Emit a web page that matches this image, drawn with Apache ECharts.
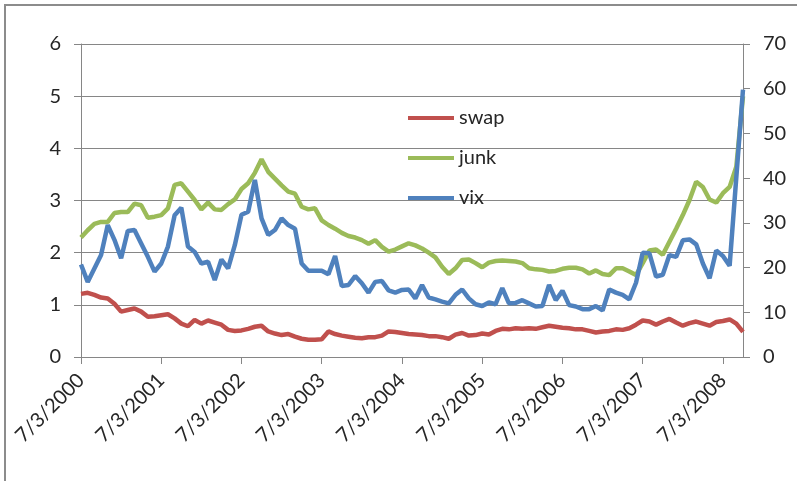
<!DOCTYPE html>
<html>
<head>
<meta charset="utf-8">
<script src="https://cdn.jsdelivr.net/npm/echarts@6/dist/echarts.min.js"></script>
<style>
  html, body { margin: 0; padding: 0; background: #fff; }
  #chart { width: 797px; height: 481px; }
</style>
</head>
<body>
<div id="chart"></div>
<script>
// monthly points, Jul 2000 .. Oct 2008 (month ends)
const yearLabels = ['7/3/2000', '7/3/2001', '7/3/2002', '7/3/2003', '7/3/2004',
  '7/3/2005', '7/3/2006', '7/3/2007', '7/3/2008']

const swap = [
  1.21, 1.23, 1.19, 1.14, 1.12, 1.02, 0.87, 0.90, 0.93, 0.87, 0.77, 0.78,
  0.80, 0.82, 0.74, 0.64, 0.59, 0.71, 0.64, 0.70, 0.66, 0.62, 0.52, 0.50,
  0.51, 0.54, 0.58, 0.60, 0.49, 0.45, 0.42, 0.44, 0.39, 0.35, 0.33, 0.33,
  0.34, 0.49, 0.44, 0.41, 0.39, 0.37, 0.36, 0.38, 0.38, 0.41, 0.49, 0.48,
  0.46, 0.44, 0.43, 0.42, 0.40, 0.40, 0.38, 0.35, 0.43, 0.46, 0.41, 0.42,
  0.45, 0.43, 0.50, 0.54, 0.53, 0.55, 0.54, 0.55, 0.54, 0.57, 0.60, 0.58,
  0.56, 0.55, 0.53, 0.53, 0.50, 0.47, 0.49, 0.50, 0.53, 0.52, 0.55, 0.62,
  0.70, 0.68, 0.62, 0.68, 0.73, 0.66, 0.60, 0.65, 0.68, 0.64, 0.60, 0.67,
  0.69, 0.72, 0.64, 0.48
]

const junk = [
  2.29, 2.43, 2.55, 2.59, 2.59, 2.76, 2.78, 2.78, 2.94, 2.91, 2.67, 2.69,
  2.72, 2.85, 3.30, 3.33, 3.17, 3.01, 2.83, 2.96, 2.83, 2.82, 2.93, 3.02,
  3.22, 3.33, 3.53, 3.79, 3.55, 3.42, 3.29, 3.17, 3.13, 2.88, 2.83, 2.85,
  2.62, 2.53, 2.46, 2.38, 2.32, 2.29, 2.24, 2.17, 2.24, 2.11, 2.02, 2.06,
  2.12, 2.18, 2.14, 2.08, 2.00, 1.91, 1.73, 1.59, 1.70, 1.86, 1.87, 1.80,
  1.72, 1.81, 1.84, 1.85, 1.84, 1.83, 1.80, 1.70, 1.68, 1.67, 1.64, 1.65,
  1.69, 1.71, 1.71, 1.68, 1.60, 1.66, 1.59, 1.57, 1.70, 1.70, 1.64, 1.57,
  1.80, 2.04, 2.06, 1.96, 2.21, 2.46, 2.72, 3.01, 3.36, 3.26, 3.02, 2.96,
  3.14, 3.26, 3.65, 5.0
]

const vix = [
  20.7, 16.8, 19.8, 22.8, 29.5, 26.2, 22.1, 28.2, 28.4, 25.4, 22.4, 19.1,
  20.9, 24.7, 31.7, 33.4, 24.7, 23.5, 20.9, 21.3, 17.2, 21.8, 19.8, 25.0,
  31.8, 32.5, 39.6, 31.0, 27.3, 28.4, 31.0, 29.5, 28.7, 20.9, 19.3, 19.3,
  19.3, 18.5, 22.6, 15.9, 16.1, 18.1, 16.5, 14.4, 16.8, 17.0, 14.9, 14.4,
  15.0, 15.1, 13.1, 16.1, 13.3, 12.9, 12.4, 12.0, 13.9, 15.1, 13.1, 11.8,
  11.4, 12.2, 11.8, 15.4, 12.0, 12.1, 12.7, 12.0, 11.3, 11.4, 16.1, 12.7,
  14.8, 11.6, 11.3, 10.7, 10.7, 11.4, 10.4, 15.1, 14.4, 13.9, 12.9, 16.6,
  23.3, 23.2, 18.0, 18.4, 22.8, 22.4, 26.1, 26.3, 25.2, 20.9, 17.6, 23.8,
  22.6, 20.4, 40.2, 59.8
]

const months = swap.map((_, i) => i)

const axisColor = '#868686'
const textColor = '#262626'
const font = 'Lato'

const chart = echarts.init(document.getElementById('chart'))

function yearTick(index) {
  return index % 12 === 0
}

chart.setOption({
  animation: false,
  backgroundColor: '#fff',
  textStyle: { fontFamily: font },
  graphic: [
    {
      type: 'rect',
      shape: { x: 5, y: 5, width: 900, height: 600 },
      style: { fill: 'none', stroke: '#8c8c8c', lineWidth: 2 },
      silent: true
    }
  ],
  grid: { left: 81, right: 54, top: 44, bottom: 124 },
  legend: {
    data: ['swap', 'junk', 'vix'],
    orient: 'vertical',
    left: 403,
    top: 103,
    icon: 'rect',
    itemWidth: 46,
    itemHeight: 4,
    itemGap: 20,
    textStyle: { fontFamily: font, fontSize: 20, color: textColor, lineHeight: 20 }
  },
  xAxis: {
    type: 'category',
    data: months,
    boundaryGap: false,
    axisLine: { lineStyle: { color: axisColor } },
    axisTick: { interval: yearTick, length: 7, lineStyle: { color: axisColor } },
    axisLabel: {
      interval: yearTick,
      rotate: 45,
      margin: 20,
      fontSize: 20,
      color: textColor,
      formatter: (v, i) => yearLabels[i / 12]
    },
    splitLine: { show: false }
  },
  yAxis: [
    {
      type: 'value',
      min: 0,
      max: 6,
      interval: 1,
      axisLine: { show: true, lineStyle: { color: axisColor } },
      axisTick: { show: true, length: 7, lineStyle: { color: axisColor } },
      axisLabel: { fontSize: 20, color: textColor, margin: 20 },
      splitLine: { lineStyle: { color: axisColor, width: 1 } }
    },
    {
      type: 'value',
      min: 0,
      max: 70,
      interval: 10,
      axisLine: { show: true, lineStyle: { color: axisColor } },
      axisTick: { show: true, length: 7, lineStyle: { color: axisColor } },
      axisLabel: { fontSize: 20, color: textColor, margin: 20 },
      splitLine: { show: false }
    }
  ],
  series: [
    {
      name: 'swap',
      type: 'line',
      data: swap,
      symbol: 'none',
      lineStyle: { color: '#c0504d', width: 4.5 },
      itemStyle: { color: '#c0504d' }
    },
    {
      name: 'junk',
      type: 'line',
      data: junk,
      symbol: 'none',
      lineStyle: { color: '#9bbb59', width: 4.5 },
      itemStyle: { color: '#9bbb59' }
    },
    {
      name: 'vix',
      type: 'line',
      yAxisIndex: 1,
      data: vix,
      symbol: 'none',
      lineStyle: { color: '#4f81bd', width: 4.5 },
      itemStyle: { color: '#4f81bd' }
    }
  ]
})
</script>
</body>
</html>
